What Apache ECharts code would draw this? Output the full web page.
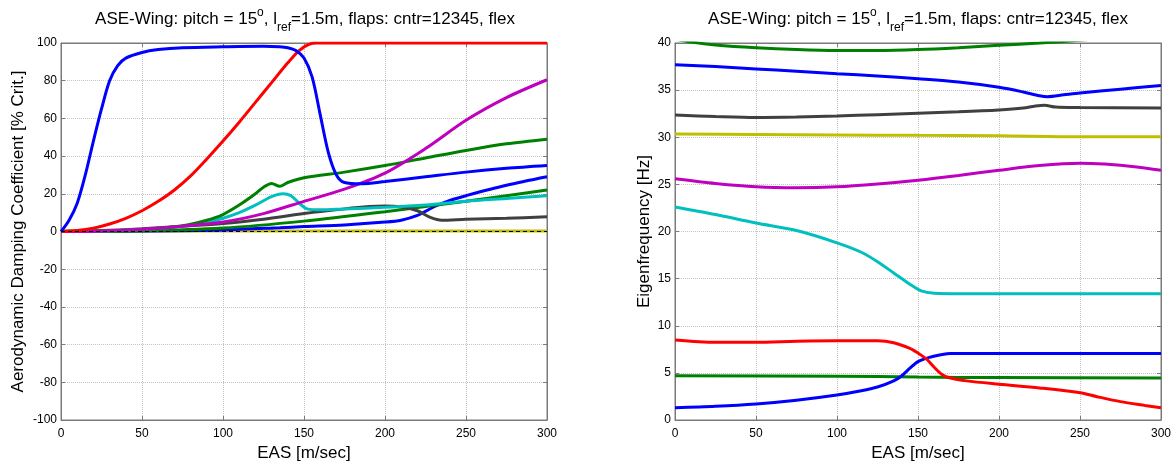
<!DOCTYPE html>
<html>
<head>
<meta charset="utf-8">
<script src="https://cdn.jsdelivr.net/npm/echarts@6/dist/echarts.min.js"></script>
<style>
  html, body { margin: 0; padding: 0; background: #fff; }
  #chart { width: 1175px; height: 464px; }
</style>
</head>
<body>
<div id="chart"></div>
<script>
// x ticks shared by both panels
const easTicks = [0, 50, 100, 150, 200, 250, 300]

// left panel: aerodynamic damping [% crit] vs EAS
const dampBlueA = [[0,0],[5,6],[10,15],[15,30],[20,48],[25,65],[30,80],[35,88],[40,92],[50,95],[60,96.5],[75,97.5],[100,98],[125,98.3],[135,98],[140,97.5],[145,96],[150,92],[155,82],[160,62],[165,42],[170,30],[175,26],[185,25.3],[200,26.5],[225,29],[250,31.5],[275,33.5],[300,35]]
const dampRed = [[0,0],[10,0.5],[20,1.8],[30,4],[40,7],[50,11],[60,16],[70,22],[80,29.5],[90,38.5],[100,48],[110,58],[120,68.5],[130,79],[140,89.5],[147,96],[153,99.3],[158,100],[300,100]]
const dampMagenta = [[0,0],[25,0.3],[50,1.2],[75,2.8],[100,5],[125,9.5],[150,16],[175,22.5],[200,31],[225,44],[250,59],[275,71],[300,80.5]]
const dampGreenA = [[0,0],[25,0.2],[50,1],[75,3],[90,6],[100,9],[110,14],[120,20],[125,23.5],[130,25.5],[135,24],[140,26],[150,28.5],[175,31.5],[200,35],[225,39],[250,43],[275,46.5],[300,49]]
const dampCyan = [[0,0],[25,0.2],[50,1],[75,2.8],[90,5],[100,7],[110,10],[120,14],[130,18.5],[137,20],[142,19],[147,15],[152,12],[160,11.5],[175,12],[200,12.8],[225,14],[250,16],[275,17.5],[300,19]]
const dampGray = [[0,0],[25,0.5],[50,1.5],[75,2.8],[100,4.2],[125,6.5],[150,9.5],[175,12],[190,13.2],[200,13.5],[210,13],[220,11],[228,7.5],[235,6],[250,6.5],[275,7],[300,7.8]]
const dampGreenB = [[0,0],[50,0.3],[100,1.8],[150,5.5],[200,10.5],[250,16],[300,22]]
const dampBlueB = [[0,0],[50,0.2],[100,0.8],[135,2],[150,2.6],[175,3.5],[200,5],[210,6],[220,8.5],[230,13],[240,16.5],[250,19],[275,24.5],[300,29]]
const dampYellow = [[0,0.3],[100,0.3],[200,0.3],[300,0.3]]
const dampZero = [[0,0],[300,0]]

// right panel: eigenfrequency [Hz] vs EAS
const freqGreenA = [[0,40.4],[10,40.1],[25,39.8],[50,39.5],[75,39.3],[100,39.2],[125,39.2],[150,39.3],[175,39.5],[200,39.75],[225,40],[250,40.3],[300,41]]
const freqBlueA = [[0,37.7],[25,37.5],[50,37.25],[75,37],[100,36.75],[125,36.5],[150,36.2],[175,35.85],[200,35.3],[215,34.8],[225,34.4],[230,34.3],[240,34.5],[250,34.7],[275,35.1],[300,35.5]]
const freqGray = [[0,32.35],[25,32.2],[50,32.1],[75,32.15],[100,32.25],[125,32.4],[150,32.55],[175,32.7],[200,32.9],[215,33.1],[222,33.3],[228,33.4],[235,33.2],[250,33.15],[300,33.1]]
const freqYellow = [[0,30.35],[50,30.3],[100,30.25],[150,30.2],[200,30.15],[250,30.05],[300,30.05]]
const freqMagenta = [[0,25.6],[25,25.1],[50,24.75],[75,24.65],[100,24.75],[125,25.05],[150,25.45],[175,25.95],[200,26.5],[225,27],[250,27.25],[265,27.15],[285,26.85],[300,26.5]]
const freqCyan = [[0,22.6],[25,21.8],[50,20.9],[75,20.1],[100,18.8],[115,17.8],[125,16.8],[135,15.6],[145,14.4],[152,13.7],[160,13.45],[175,13.4],[300,13.4]]
const freqRed = [[0,8.5],[25,8.25],[50,8.25],[75,8.35],[100,8.4],[125,8.4],[135,8.2],[145,7.6],[150,7.1],[155,6.5],[160,5.6],[165,4.8],[170,4.45],[180,4.15],[200,3.8],[225,3.4],[250,2.9],[260,2.5],[275,1.95],[290,1.55],[300,1.3]]
const freqBlueB = [[0,1.3],[25,1.45],[50,1.7],[75,2.1],[100,2.65],[115,3.1],[125,3.5],[135,4.15],[140,4.7],[145,5.5],[150,6.2],[157,6.65],[165,6.95],[170,7.05],[300,7.05]]
const freqGreenB = [[0,4.7],[100,4.65],[150,4.55],[200,4.5],[300,4.45]]

const FONT = 'Liberation Sans'
const FRAME = '#7a7a7a'
const C = {
  blue: '#0000ff',
  red: '#ff0000',
  green: '#008000',
  magenta: '#bf00bf',
  cyan: '#00bfbf',
  gray: '#404040',
  yellow: '#bfbf00',
}

const titleText = 'ASE-Wing: pitch = 15{sup|o}, l{sub|ref}=1.5m, flaps: cntr=12345, flex'
const titleRich = {
  sup: { fontSize: 12, fontFamily: FONT, color: '#000', padding: [0, 0, 12, 0] },
  sub: { fontSize: 12, fontFamily: FONT, color: '#000', padding: [18, 0, 0, 0] },
}

const makeTitle = (x) => ({
  text: titleText,
  left: x,
  top: 4,
  padding: 0,
  textAlign: 'center',
  textStyle: { fontSize: 17, fontWeight: 'normal', fontFamily: FONT, color: '#000', rich: titleRich },
})

const xAxisFor = (gridIndex, shown) => ({
  gridIndex,
  type: 'value',
  min: 0,
  max: 300,
  interval: 50,
  position: shown ? 'bottom' : 'top',
  name: shown ? 'EAS [m/sec]' : '',
  nameLocation: 'middle',
  nameGap: 22,
  nameTextStyle: { fontSize: 17, fontFamily: FONT, color: '#000' },
  axisLine: { show: true, onZero: false, lineStyle: { color: FRAME, width: 1 } },
  axisTick: { show: true, inside: true, length: 4, lineStyle: { color: FRAME } },
  axisLabel: { show: shown, fontSize: 12, fontFamily: FONT, color: '#000', margin: 8 },
  splitLine: { show: shown, lineStyle: { color: '#c4c4c4', type: 'dotted', width: 1 } },
})

const yAxisFor = (gridIndex, shown, min, max, interval, name, nameGap) => ({
  gridIndex,
  type: 'value',
  min,
  max,
  interval,
  position: shown ? 'left' : 'right',
  name: shown ? name : '',
  nameLocation: 'middle',
  nameGap,
  nameTextStyle: { fontSize: 17, fontFamily: FONT, color: '#000' },
  axisLine: { show: true, onZero: false, lineStyle: { color: FRAME, width: 1 } },
  axisTick: { show: true, inside: true, length: 4, lineStyle: { color: FRAME } },
  axisLabel: { show: shown, fontSize: 12, fontFamily: FONT, color: '#000', margin: 4 },
  splitLine: { show: shown, lineStyle: { color: '#c4c4c4', type: 'dotted', width: 1 } },
})

const line = (data, color, axisIdx, extra) => Object.assign({
  type: 'line',
  data,
  xAxisIndex: axisIdx,
  yAxisIndex: axisIdx,
  showSymbol: false,
  smooth: 0.3,
  clip: true,
  lineStyle: { color, width: 3 },
  itemStyle: { color },
  silent: true,
}, extra || {})

const chart = echarts.init(document.getElementById('chart'), null, { renderer: 'canvas' })

const option = {
  animation: false,
  backgroundColor: '#fff',
  title: [makeTitle(305), makeTitle(918)],
  grid: [
    { left: 61, right: 628, top: 43, bottom: 44, outerBoundsMode: 'none', show: true, borderColor: FRAME, borderWidth: 1 },
    { left: 675, right: 14, top: 43, bottom: 44, outerBoundsMode: 'none', show: true, borderColor: FRAME, borderWidth: 1 },
  ],
  xAxis: [xAxisFor(0, true), xAxisFor(1, true), xAxisFor(0, false), xAxisFor(1, false)],
  yAxis: [
    yAxisFor(0, true, -100, 100, 20, 'Aerodynamic Damping Coefficient [% Crit.]', 34),
    yAxisFor(1, true, 0, 40, 5, 'Eigenfrequency [Hz]', 22),
    yAxisFor(0, false, -100, 100, 20, '', 0),
    yAxisFor(1, false, 0, 40, 5, '', 0),
  ],
  series: [
    line(dampYellow, C.yellow, 0),
    line(dampBlueB, C.blue, 0),
    line(dampGreenB, C.green, 0),
    line(dampGray, C.gray, 0),
    line(dampCyan, C.cyan, 0),
    line(dampGreenA, C.green, 0),
    line(dampMagenta, C.magenta, 0),
    line(dampRed, C.red, 0),
    line(dampBlueA, C.blue, 0),
    line(dampZero, '#000', 0, { smooth: false, lineStyle: { color: '#000', width: 1, type: [4, 3] } }),

    line(freqGreenA, C.green, 1),
    line(freqBlueA, C.blue, 1),
    line(freqGray, C.gray, 1),
    line(freqYellow, C.yellow, 1),
    line(freqMagenta, C.magenta, 1),
    line(freqCyan, C.cyan, 1),
    line(freqGreenB, C.green, 1),
    line(freqBlueB, C.blue, 1),
    line(freqRed, C.red, 1),
  ],
}

chart.setOption(option)
</script>
</body>
</html>
